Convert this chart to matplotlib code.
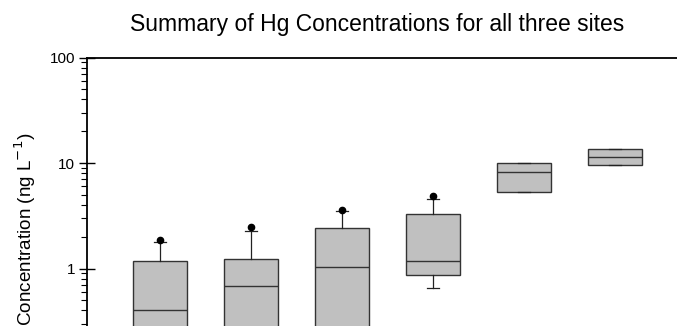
#!/usr/bin/env python3
"""Box plot summary of Hg concentrations (log scale), cropped like the source figure."""

import matplotlib
matplotlib.use("Agg")
import matplotlib.pyplot as plt

plt.rcParams["font.family"] = ["Liberation Sans", "DejaVu Sans"]

# per-group box statistics (ng/L)
positions = [1, 2, 3, 4, 5, 6]
medians = [0.40, 0.69, 1.04, 1.17, 8.2, 11.4]
q1 = [0.17, 0.20, 0.22, 0.87, 5.35, 9.6]
q3 = [1.19, 1.24, 2.41, 3.25, 10.0, 13.6]
whisker_lo = [0.12, 0.13, 0.14, 0.66, 5.35, 9.6]
whisker_hi = [1.78, 2.29, 3.54, 4.58, 10.0, 13.6]
outliers = [[1.88], [2.46], [3.6], [4.9], [], []]

W, H = 677, 326
fig = plt.figure(figsize=(W / 100, H / 100), dpi=100)

# axes extends below the visible figure (the source image is cropped)
decade_px = 105.5
ylo, yhi = 0.1, 100.0
ax_h = 3 * decade_px
top_px = 57.5
left_px, right_px = 87, 688
ax = fig.add_axes([left_px / W, 1 - (top_px + ax_h) / H, (right_px - left_px) / W, ax_h / H])

stats = []
for i in range(len(positions)):
    stats.append(dict(med=medians[i], q1=q1[i], q3=q3[i],
                      whislo=whisker_lo[i], whishi=whisker_hi[i],
                      fliers=outliers[i]))

ax.bxp(stats, positions=positions, widths=0.6, capwidths=0.13,
       patch_artist=True, showfliers=True,
       boxprops=dict(facecolor="#c0c0c0", edgecolor="#333333", linewidth=1.0),
       medianprops=dict(color="#333333", linewidth=1.0),
       whiskerprops=dict(color="#222222", linewidth=0.9),
       capprops=dict(color="#222222", linewidth=0.9),
       flierprops=dict(marker="o", markersize=4.5, markerfacecolor="black",
                       markeredgecolor="black"))

ax.set_yscale("log")
ax.set_ylim(ylo, yhi)
ax.set_xlim(0.2, 6.8)
ax.set_yticks([1, 10, 100])
ax.set_yticklabels(["1", "10", "100"])
ax.set_xticks([])
ax.tick_params(axis="y", which="major", direction="inout", length=11, width=1.0,
               labelsize=11, pad=3)
ax.tick_params(axis="y", which="minor", direction="out", length=4, width=0.8)
ax.spines["right"].set_visible(False)
ax.spines["bottom"].set_visible(False)
for s in ("top", "left"):
    ax.spines[s].set_linewidth(1.3)

fig.text(377 / W, 1 - 31 / H, "Summary of Hg Concentrations for all three sites",
         ha="center", va="baseline", fontsize=16.5)
fig.text(25 / W, 1 - 133 / H, "Concentration (ng L$^{-1}$)", rotation=90,
         ha="center", va="top", fontsize=13.6)

fig.savefig("out.png", dpi=100)
